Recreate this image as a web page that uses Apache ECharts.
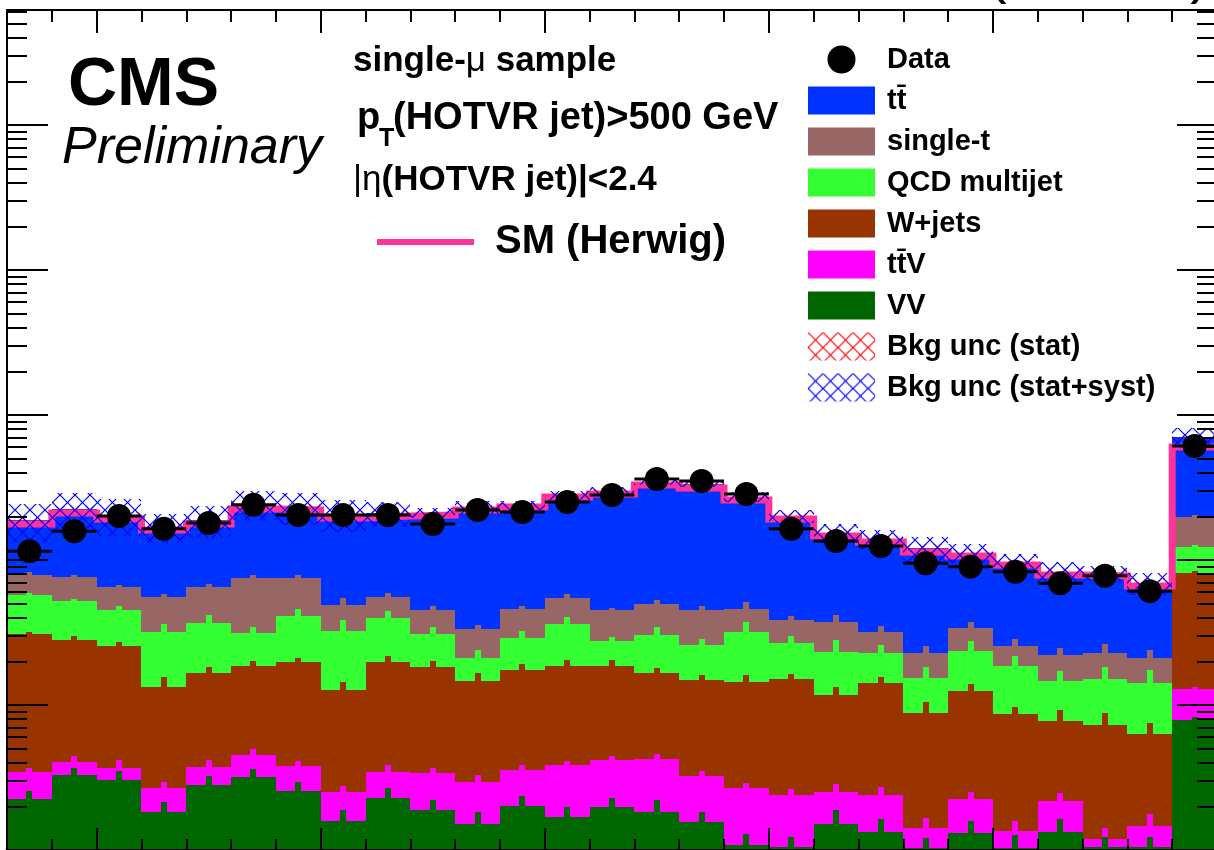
<!DOCTYPE html>
<html>
<head>
<meta charset="utf-8">
<script src="https://cdn.jsdelivr.net/npm/echarts@6/dist/echarts.min.js"></script>
<style>
html,body{margin:0;padding:0;background:#fff;overflow:hidden}
#c{width:1214px;height:850px}
</style>
</head>
<body>
<div id="c"></div>
<script>
// ---------------- data ----------------
const binEdges = [3,4,5,6,7,8,9,10,11,12,13,14,15,16,17,18,19,20,21,22,23,24,25,26,27,28,29,30];
const dataCounts = [115,158,201,164,180,240,204,204,204,177,221,214,251,281,362,351,285,164,135,125,95,90,83,69,78,61,611];
const ttbar     = [109.9,148.4,139.2,113.3,123.6,168.3,156.9,158.7,155.3,165.7,198.6,193.6,226.0,253.9,295.4,289.1,226.1,162.5,116.2,107.7,98.2,77.8,69.9,60.6,58.6,48.3,507.1];
const singleTop = [21.4,24.1,19.9,23.7,28.3,43.7,34.0,16.5,15.8,14.3,12.3,16.9,18.5,17.6,19.3,19.3,14.0,11.8,14.2,9.1,7.4,10.4,6.9,7.5,7.7,6.9,75.0];
const qcd       = [26.5,24.1,19.7,18.6,20.2,12.8,21.3,19.7,20.0,12.6,6.5,11.6,17.6,9.0,13.8,11.0,17.5,11.7,11.5,8.6,6.6,11.1,9.9,6.8,7.8,7.9,41.5];
const wjets     = [27.4,24.0,21.8,10.6,12.9,14.1,16.0,10.2,16.3,14.9,11.7,13.8,14.7,14.4,12.4,11.7,11.7,12.7,9.2,11.8,7.39,10.2,7.32,5.58,6.09,4.85,68.5];
const ttV       = [1.20,0.75,0.64,0.85,0.93,1.33,1.25,0.93,1.17,1.51,1.43,1.55,2.17,2.20,2.41,1.68,1.59,1.35,1.00,1.06,0.39,0.94,0.32,0.85,0.14,0.41,5.02];
const diboson   = [2.25,3.29,3.04,1.83,2.81,3.19,2.55,1.58,2.28,1.89,1.51,2.01,1.69,1.98,1.83,1.56,1.08,1.05,1.51,1.33,1.03,1.31,1.03,1.33,1.05,1.05,7.88];
const herwig    = [177.1,210.9,191.8,161.0,177.1,224.7,221.2,194.9,201.1,204.3,221.2,232.0,272.0,285.2,329.1,313.7,259.3,191.8,146.4,133.1,113.6,106.6,92.4,78.8,77.6,66.2,601.7];
// relative stat. uncertainty of each cumulative stack level (drawn as the small up-ticks at bin centres)
const errCumSingleT = [0.049,0.032,0.032,0.049,0.049,0.049,0.049,0.118,0.065,0.065,0.065,0.049,0.065,0.032,0.065,0.065,0.118,0.065,0.118,0.1,0.118,0.1,0.118,0.118,0.154,0.135,0.032];
const errCumQcd     = [0.032,0.032,0.065,0.135,0.135,0.1,0.118,0.191,0.118,0.118,0.135,0.118,0.118,0.065,0.135,0.1,0.172,0.118,0.21,0.135,0.191,0.172,0.172,0.172,0.21,0.229,0.032];
const errCumW       = [0.032,0.065,0.065,0.172,0.1,0.083,0.065,0.135,0.1,0.1,0.135,0.1,0.1,0.1,0.083,0.083,0.118,0.083,0.135,0.1,0.191,0.118,0.118,0.191,0.21,0.191,0.032];
const errCumTtV     = [0.065,0.1,0.135,0.1,0.118,0.1,0.083,0.1,0.118,0.083,0.118,0.083,0.065,0.065,0.083,0.083,0.083,0.1,0.135,0.135,0.172,0.118,0.172,0.135,0.191,0.21,0.032];
const errCumVV      = [0.135,0.118,0.154,0.172,0.154,0.135,0.154,0.191,0.172,0.172,0.21,0.172,0.172,0.154,0.21,0.172,0.191,0.172,0.249,0.229,0.172,0.21,0.229,0.229,0.172,0.172,0.049];
const uncStat   = [0.05,0.05,0.05,0.05,0.05,0.05,0.05,0.05,0.05,0.04,0.04,0.04,0.03,0.03,0.03,0.03,0.04,0.05,0.06,0.06,0.07,0.07,0.07,0.08,0.08,0.08,0.04];
const uncTotal  = [0.30,0.30,0.28,0.22,0.25,0.22,0.25,0.25,0.20,0.08,0.10,0.07,0.07,0.07,0.05,0.05,0.08,0.10,0.15,0.15,0.20,0.15,0.15,0.18,0.12,0.18,0.15];
const xMajorTicks = [5,10,15,20,25,30];
const xMinorTicks = [3,4,6,7,8,9,11,12,13,14,16,17,18,19,21,22,23,24,26,27,28,29];
const yMajorTicks = [10,100,1000,10000,100000];
const yMinorTicks = [2,3,4,5,6,7,8,9,20,30,40,50,60,70,80,90,200,300,400,500,600,700,800,900,
                     2000,3000,4000,5000,6000,7000,8000,9000,20000,30000,40000,50000,60000,70000,80000,90000,
                     200000,300000,400000,500000,600000];
const Y_MIN = 1;
const LOG_MAX = 840/145;
const Y_MAX = Math.pow(10, LOG_MAX);

// ---------------- helpers ----------------
const FONT = '"Liberation Sans", Arial, Helvetica, sans-serif';
const nBins = dataCounts.length;

function hatch(color, size) {
  const c = document.createElement('canvas');
  c.width = size; c.height = size;
  const g = c.getContext('2d');
  g.strokeStyle = color; g.lineWidth = 1.2;
  g.beginPath();
  g.moveTo(0, 0); g.lineTo(size, size);
  g.moveTo(size, 0); g.lineTo(0, size);
  g.stroke();
  return {image: c, repeat: 'repeat'};
}
const redHatch = hatch('#ff0000', 15);
const blueHatch = hatch('#0000ff', 15);

function boxRenderer(fill) {
  return function (params, api) {
    const lo = Math.max(api.value(2), Y_MIN), hi = api.value(3);
    if (!(hi > lo)) return null;
    const a = api.coord([api.value(0), hi]);
    const b = api.coord([api.value(1), lo]);
    const x0 = Math.round(a[0]), x1 = Math.round(b[0]);
    const y0 = Math.round(a[1]), y1 = Math.round(b[1]);
    const children = [{type: 'rect', shape: {x: x0, y: y0, width: x1 - x0, height: y1 - y0}, style: {fill: fill}}];
    const err = api.value(4);
    if (err > 0) {
      const t = api.coord([(api.value(0) + api.value(1)) / 2, hi * (1 + err)]);
      const xc = Math.round(t[0]);
      const yt = Math.round(t[1]);
      if (y0 - yt > 0) children.push({type: 'rect', shape: {x: xc - 3, y: yt, width: 6, height: y0 - yt + 1}, style: {fill: fill}});
    }
    return {type: 'group', children: children};
  };
}

const components = [
  {name: 'VV', values: diboson, err: errCumVV, color: '#006600'},
  {name: 'tt\u0304V', values: ttV, err: errCumTtV, color: '#ff00ff'},
  {name: 'W+jets', values: wjets, err: errCumW, color: '#993300'},
  {name: 'QCD multijet', values: qcd, err: errCumQcd, color: '#33ff33'},
  {name: 'single-t', values: singleTop, err: errCumSingleT, color: '#996666'},
  {name: 'tt\u0304', values: ttbar, err: null, color: '#0033ff'}
];
const cum = new Array(nBins).fill(0);
const stackSeries = components.map(c => {
  const d = c.values.map((v, i) => {
    const lo = cum[i]; cum[i] += v;
    return [binEdges[i], binEdges[i + 1], lo, cum[i], c.err ? c.err[i] : 0];
  });
  return {type: 'custom', name: c.name, data: d, renderItem: boxRenderer(c.color),
          itemStyle: {color: c.color}, z: 1, silent: true};
}).reverse(); // top layer drawn first, like a THStack
const total = cum.slice();
const band = u => total.map((t, i) => [binEdges[i], binEdges[i + 1], t * (1 - u[i]), t * (1 + u[i]), 0]);

const herwigStep = [];
herwig.forEach((v, i) => { herwigStep.push([binEdges[i], v], [binEdges[i + 1], v]); });

// ---------------- axes ----------------
function tickAxisX(pos, values, len, showLine) {
  return {type: 'value', position: pos, min: 3, max: 30, z: 10,
    axisLine: {show: showLine, onZero: false, lineStyle: {color: '#000', width: 2}},
    axisTick: {show: true, inside: true, length: len, customValues: values, lineStyle: {color: '#000', width: 2}},
    axisLabel: {show: false}, splitLine: {show: false}};
}
function tickAxisY(pos, values, len) {
  return {type: 'value', position: pos, min: 0, max: LOG_MAX, z: 10,
    axisLine: {show: false, onZero: false},
    axisTick: {show: true, inside: true, length: len, customValues: values.map(v => Math.log10(v)), lineStyle: {color: '#000', width: 2}},
    axisLabel: {show: false}, splitLine: {show: false}};
}
const xAxes = [
  {type: 'value', position: 'bottom', min: 3, max: 30, z: 10,
   axisLine: {show: true, onZero: false, lineStyle: {color: '#000', width: 3}},
   axisTick: {show: false}, axisLabel: {show: false}, splitLine: {show: false}},
  tickAxisX('bottom', xMajorTicks, 22, false),
  tickAxisX('bottom', xMinorTicks, 11, false),
  tickAxisX('top', xMajorTicks, 23, true),
  tickAxisX('top', xMinorTicks, 12, false)
];
const yAxes = [
  {type: 'log', logBase: 10, position: 'left', min: Y_MIN, max: Y_MAX, z: 10,
   axisLine: {show: true, onZero: false, lineStyle: {color: '#000', width: 2}},
   axisTick: {show: false}, axisLabel: {show: false}, splitLine: {show: false}},
  tickAxisY('left', yMajorTicks, 41),
  tickAxisY('left', yMinorTicks, 20),
  tickAxisY('right', yMajorTicks, 40),
  tickAxisY('right', yMinorTicks, 20)
];

// ---------------- option ----------------
const option = {
  animation: false,
  backgroundColor: '#fff',
  grid: {left: 7, top: 10, right: -3, bottom: 0, containLabel: false, outerBoundsMode: 'none'},
  xAxis: xAxes,
  yAxis: yAxes,
  legend: [{
    orient: 'vertical', left: 808, top: 45, padding: 0, itemWidth: 67, itemHeight: 28, itemGap: 12,
    selectedMode: false, symbolKeepAspect: true,
    textStyle: {fontFamily: FONT, fontWeight: 'bold', fontSize: 29, color: '#000', lineHeight: 19, padding: [0, 0, 9, 7]},
    data: [
      {name: 'Data', icon: 'circle'},
      {name: 'tt\u0304', icon: 'rect'},
      {name: 'single-t', icon: 'rect'},
      {name: 'QCD multijet', icon: 'rect'},
      {name: 'W+jets', icon: 'rect'},
      {name: 'tt\u0304V', icon: 'rect'},
      {name: 'VV', icon: 'rect'},
      {name: 'Bkg unc (stat)', icon: 'rect'},
      {name: 'Bkg unc (stat+syst)', icon: 'rect'}
    ]
  }, {
    orient: 'vertical', left: 377, top: 222, padding: 0, itemWidth: 97, itemHeight: 6,
    selectedMode: false,
    textStyle: {fontFamily: FONT, fontWeight: 'bold', fontSize: 40, color: '#000', lineHeight: 32, padding: [0, 0, 8, 16]},
    data: [{name: 'SM (Herwig)', icon: 'rect'}]
  }],
  series: stackSeries.concat([
    {type: 'line', name: 'SM (Herwig)', data: herwigStep, symbol: 'none', showSymbol: false, z: 2, silent: true,
     color: '#ff3399', itemStyle: {color: '#ff3399'},
     lineStyle: {color: '#ff3399', width: 7, cap: 'butt', join: 'miter'}},
    {type: 'custom', name: 'Bkg unc (stat)', data: band(uncStat), renderItem: boxRenderer(redHatch),
     itemStyle: {color: redHatch}, z: 3, silent: true},
    {type: 'custom', name: 'Bkg unc (stat+syst)', data: band(uncTotal), renderItem: boxRenderer(blueHatch),
     itemStyle: {color: blueHatch}, z: 4, silent: true},
    {type: 'custom', name: 'Data xerr', data: dataCounts.map((v, i) => [binEdges[i], binEdges[i + 1], v]), z: 5, silent: true,
     renderItem: function (p, api) {
       const a = api.coord([api.value(0), api.value(2)]), b = api.coord([api.value(1), api.value(2)]);
       return {type: 'line', shape: {x1: a[0], y1: a[1], x2: b[0], y2: b[1]}, style: {stroke: '#000', lineWidth: 3}};
     }},
    {type: 'scatter', name: 'Data', data: dataCounts.map((v, i) => [(binEdges[i] + binEdges[i + 1]) / 2, v]),
     symbol: 'circle', symbolSize: 24, itemStyle: {color: '#000', opacity: 1}, z: 6, silent: true}
  ]),
  graphic: [
    {type: 'text', x: 68, y: 86, style: {text: 'CMS', font: 'bold 68px ' + FONT, fill: '#000', align: 'left', verticalAlign: 'middle'}},
    {type: 'text', x: 62, y: 149, style: {text: 'Preliminary', font: 'italic 52px ' + FONT, fill: '#000', align: 'left', verticalAlign: 'middle'}},
    {type: 'text', x: 353, y: 61, style: {
      text: '{b|single-}{g|\u03bc}{b| sample}', align: 'left', verticalAlign: 'middle',
      rich: {b: {fontFamily: FONT, fontWeight: 'bold', fontSize: 35, fill: '#000'},
             g: {fontFamily: FONT, fontWeight: 'normal', fontSize: 35, fill: '#000'}}}},
    {type: 'text', x: 357, y: 119, style: {text: 'p', font: 'bold 38px ' + FONT, fill: '#000', align: 'left', verticalAlign: 'middle'}},
    {type: 'text', x: 379, y: 139, style: {text: 'T', font: 'bold 25px ' + FONT, fill: '#000', align: 'left', verticalAlign: 'middle'}},
    {type: 'text', x: 393, y: 119, style: {text: '(HOTVR jet)>500 GeV', font: 'bold 38px ' + FONT, fill: '#000', align: 'left', verticalAlign: 'middle'}},
    {type: 'text', x: 353, y: 180, style: {
      text: '{g||\u03b7}{b|(HOTVR jet)|<2.4}', align: 'left', verticalAlign: 'middle',
      rich: {b: {fontFamily: FONT, fontWeight: 'bold', fontSize: 35, fill: '#000'},
             g: {fontFamily: FONT, fontWeight: 'normal', fontSize: 35, fill: '#000'}}}},
    {type: 'text', x: 1210, y: -24, style: {text: '138 fb\u207b\u00b9 (13 TeV)', font: '59px ' + FONT, fill: '#000', align: 'right', verticalAlign: 'middle'}}
  ]
};

const chart = echarts.init(document.getElementById('c'), null, {renderer: 'canvas', width: 1214, height: 850});
chart.setOption(option);
</script>
</body>
</html>
